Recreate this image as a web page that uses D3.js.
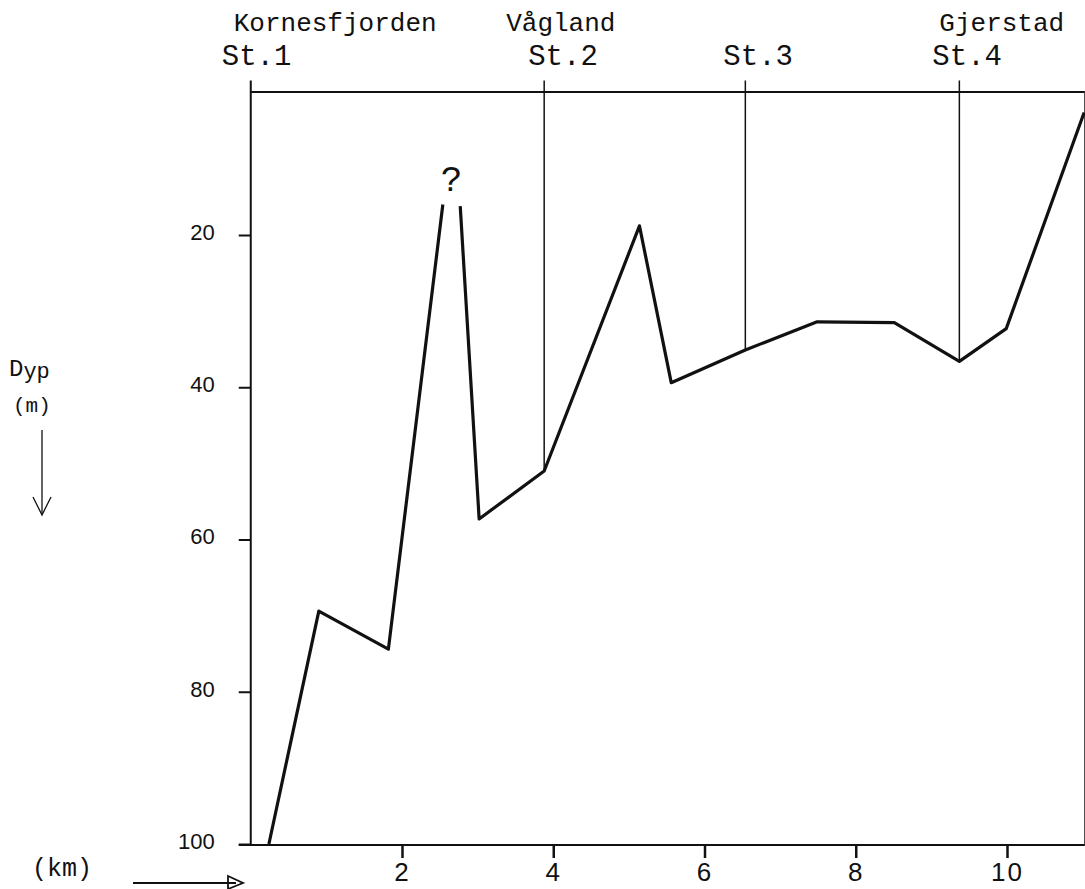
<!DOCTYPE html>
<html>
<head>
<meta charset="utf-8">
<script src="https://cdn.jsdelivr.net/npm/d3@7"></script>
<style>
  html, body { margin: 0; padding: 0; background: #fff; }
  svg { display: block; }
</style>
</head>
<body>
<script>
// ---- data ----
const profileKm    = [0.24, 0.90, 1.82, 2.54, null, 2.77, 3.02, 3.88, 5.14, 5.56, 6.54, 7.49, 8.51, 9.37, 9.99, 11.02];
const profileDepth = [100, 69.4, 74.4, 16.0, null, 16.2, 57.3, 51.0, 18.8, 39.4, 35.1, 31.4, 31.5, 36.6, 32.3, 3.9];
const stationNames = ["St.1", "St.2", "St.3", "St.4"];
const placeNames   = ["Kornesfjorden", "Vågland", "", "Gjerstad"];
const stationKm    = [0, 3.88, 6.54, 9.37];
const stationDepth = [100, 51.0, 35.1, 36.6];
const xTicks = [2, 4, 6, 8, 10];
const yTicks = [20, 40, 60, 80, 100];
const xTickLabels = ["2", "4", "6", "8", "10"];
const yTickLabels = ["20", "40", "60", "80", "100"];
const uncertainKm = 2.655, uncertainDepth = 14.2;

const W = 1085, H = 889;
const svg = d3.select("body").append("svg").attr("width", W).attr("height", H);
svg.append("rect").attr("width", W).attr("height", H).attr("fill", "#fff");

const x = d3.scaleLinear().domain([2, 10]).range([402, 1007]);
const y = d3.scaleLinear().domain([20, 100]).range([235, 844]);

const mono = "'Liberation Mono', 'DejaVu Sans Mono', monospace";
const sans = "'Liberation Sans', Arial, sans-serif";

const x0 = x(0), xR = x(11.03), yTop = y(1.2), yBot = y(100);

// top line
svg.append("line").attr("x1", x0).attr("x2", xR).attr("y1", yTop).attr("y2", yTop)
  .attr("stroke", "#111").attr("stroke-width", 2);
// right border
svg.append("line").attr("x1", xR).attr("x2", xR).attr("y1", yTop).attr("y2", yBot)
  .attr("stroke", "#333").attr("stroke-width", 1.5);

// left (y) axis
const yAxis = d3.axisLeft(y).tickValues(yTicks).tickSize(12).tickPadding(24)
  .tickFormat((d, i) => yTickLabels[i]);
const gy = svg.append("g").attr("transform", `translate(${x0},0)`).call(yAxis);
gy.select(".domain").remove();
gy.selectAll(".tick line").attr("stroke", "#111").attr("stroke-width", 2);
gy.selectAll(".tick text").attr("font-family", sans).attr("font-size", 22)
  .attr("fill", "#111").attr("dy", "0.2em");
svg.append("line").attr("x1", x0).attr("x2", x0).attr("y1", y(-0.3)).attr("y2", yBot)
  .attr("stroke", "#111").attr("stroke-width", 2);

// bottom (x) axis
const xAxis = d3.axisBottom(x).tickValues(xTicks).tickSize(13).tickPadding(5)
  .tickFormat((d, i) => xTickLabels[i]);
const gx = svg.append("g").attr("transform", `translate(0,${yBot + 1})`).call(xAxis);
gx.select(".domain").remove();
gx.selectAll(".tick line").attr("stroke", "#111").attr("stroke-width", 2.5);
gx.selectAll(".tick text").attr("font-family", sans).attr("font-size", 26)
  .attr("fill", "#111").attr("letter-spacing", 2);
svg.append("line").attr("x1", x0 - 12).attr("x2", xR).attr("y1", yBot + 1).attr("y2", yBot + 1)
  .attr("stroke", "#111").attr("stroke-width", 2);

// station lines (St.2 - St.4)
stationKm.forEach((k, i) => {
  if (i === 0) return;
  svg.append("line").attr("x1", x(k)).attr("x2", x(k))
    .attr("y1", y(-0.3)).attr("y2", y(stationDepth[i]))
    .attr("stroke", "#111").attr("stroke-width", 1.5);
});

// station labels
const stDx = [-29, -16, -22, -27];
svg.selectAll("text.st").data(stationNames).join("text").attr("class", "st")
  .attr("x", (d, i) => x(stationKm[i]) + stDx[i]).attr("y", 65)
  .attr("font-family", mono).attr("font-size", 29).attr("fill", "#111")
  .text(d => d);
const placeDx = [-17, -38, 0, -20];
svg.selectAll("text.pl").data(placeNames).join("text").attr("class", "pl")
  .attr("x", (d, i) => x(stationKm[i]) + placeDx[i]).attr("y", 31)
  .attr("font-family", mono).attr("font-size", 26).attr("fill", "#111")
  .text(d => d);

// profile
const pts = profileKm.map((k, i) => [k, profileDepth[i]]);
const line = d3.line().defined(d => d[0] !== null && d[1] !== null)
  .x(d => x(d[0])).y(d => y(d[1]));
svg.append("path").attr("d", line(pts)).attr("fill", "none")
  .attr("stroke", "#111").attr("stroke-width", 3.2).attr("stroke-linejoin", "round");

// uncertain mark
svg.append("text").attr("x", x(uncertainKm)).attr("y", y(uncertainDepth))
  .attr("text-anchor", "middle").attr("font-family", mono).attr("font-size", 36)
  .attr("fill", "#111").text("?");

// depth label
const dyp = svg.append("text").attr("x", 9).attr("y", 376)
  .attr("font-family", mono).attr("font-size", 22).attr("fill", "#111");
dyp.append("tspan").attr("font-size", 24).text("D");
dyp.append("tspan").attr("dy", 2).text("yp");
svg.append("text").attr("x", 13).attr("y", 412).attr("font-family", mono)
  .attr("font-size", 21).attr("fill", "#111").text("(m)");
svg.append("line").attr("x1", 42).attr("x2", 42).attr("y1", 430).attr("y2", 514)
  .attr("stroke", "#111").attr("stroke-width", 1.3);
svg.append("path").attr("d", "M33,497 L42,515 L51,497").attr("fill", "none")
  .attr("stroke", "#111").attr("stroke-width", 1.3);

// km label + arrow
svg.append("text").attr("x", 32).attr("y", 876).attr("font-family", mono)
  .attr("font-size", 25).attr("fill", "#111").text("(km)");
svg.append("line").attr("x1", 133).attr("x2", 236).attr("y1", 883).attr("y2", 883)
  .attr("stroke", "#111").attr("stroke-width", 2);
svg.append("path").attr("d", "M228,876 L243,883 L228,889 Z").attr("fill", "none")
  .attr("stroke", "#111").attr("stroke-width", 1.8);
</script>
</body>
</html>
